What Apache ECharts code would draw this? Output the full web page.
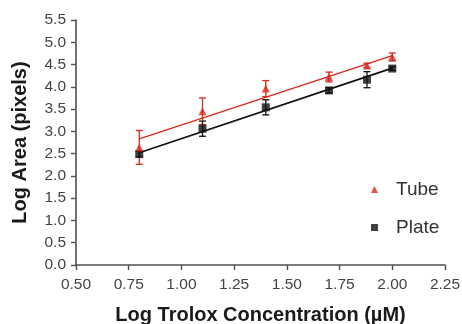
<!DOCTYPE html>
<html>
<head>
<meta charset="utf-8">
<script src="https://cdn.jsdelivr.net/npm/echarts@6/dist/echarts.min.js"></script>
<style>
  html, body { margin: 0; padding: 0; background: #fff; }
  #chart { width: 462px; height: 324px; }
</style>
</head>
<body>
<div id="chart"></div>
<script>
// Log Trolox concentration (µM) for each measured point
const logConc = [0.80, 1.10, 1.40, 1.70, 1.88, 2.00];

// Mean log area and standard deviation, tube assay
const tubeMean = [2.64, 3.45, 3.96, 4.22, 4.48, 4.67];
const tubeSD   = [0.38, 0.30, 0.18, 0.11, 0.05, 0.09];

// Mean log area and standard deviation, plate assay
const plateMean = [2.49, 3.06, 3.54, 3.92, 4.16, 4.41];
const plateSD   = [0.06, 0.17, 0.17, 0.06, 0.18, 0.04];

// Linear fit end points for each assay
const tubeFit  = [[0.80, 2.83], [2.00, 4.70]];
const plateFit = [[0.80, 2.52], [2.00, 4.42]];

// Axis tick ranges
const xTicks = { min: 0.50, max: 2.25, step: 0.25 };
const yTicks = { min: 0.0, max: 5.5, step: 0.5 };

const RED = '#d7281e';
const BLACK = '#111111';
const FONT = 'Liberation Sans, Arial, sans-serif';

function pairs(xs, ys) { return xs.map((x, i) => [x, ys[i]]); }
function bars(xs, m, sd) { return xs.map((x, i) => [x, m[i] - sd[i], m[i] + sd[i]]); }

function errorBar(color) {
  return function (params, api) {
    const x = api.value(0);
    const lo = api.coord([x, api.value(1)]);
    const hi = api.coord([x, api.value(2)]);
    const w = 3.5;
    const style = { stroke: color, lineWidth: 1.3 };
    return {
      type: 'group',
      children: [
        { type: 'line', shape: { x1: lo[0], y1: lo[1], x2: hi[0], y2: hi[1] }, style },
        { type: 'line', shape: { x1: lo[0] - w, y1: lo[1], x2: lo[0] + w, y2: lo[1] }, style },
        { type: 'line', shape: { x1: hi[0] - w, y1: hi[1], x2: hi[0] + w, y2: hi[1] }, style }
      ]
    };
  };
}

const chart = echarts.init(document.getElementById('chart'), null, { renderer: 'canvas' });

chart.setOption({
  animation: false,
  backgroundColor: '#fff',
  textStyle: { fontFamily: FONT },
  grid: {
    left: 76, right: 17, top: 20, bottom: 59,
    containLabel: false, outerBoundsMode: 'none'
  },
  xAxis: {
    type: 'value',
    min: xTicks.min, max: xTicks.max, interval: xTicks.step,
    name: 'Log Trolox Concentration (µM)',
    nameLocation: 'middle', nameGap: 40,
    nameTextStyle: { fontFamily: FONT, fontSize: 20, fontWeight: 'bold', color: '#1a1a1a' },
    axisLine: { lineStyle: { color: '#505050', width: 1.6 } },
    axisTick: { show: true, length: 5, lineStyle: { color: '#505050', width: 1.4 } },
    axisLabel: { fontFamily: FONT, fontSize: 15.5, color: '#444', margin: 12,
                 formatter: v => v.toFixed(2) },
    splitLine: { show: false }
  },
  yAxis: {
    type: 'value',
    min: yTicks.min, max: yTicks.max, interval: yTicks.step,
    name: 'Log Area (pixels)',
    nameLocation: 'middle', nameGap: 46,
    nameTextStyle: { fontFamily: FONT, fontSize: 20, fontWeight: 'bold', color: '#1a1a1a' },
    axisLine: { show: true, lineStyle: { color: '#505050', width: 1.6 } },
    axisTick: { show: true, length: 5, lineStyle: { color: '#505050', width: 1.4 } },
    axisLabel: { fontFamily: FONT, fontSize: 15.5, color: '#444', margin: 10,
                 formatter: v => v.toFixed(1) },
    splitLine: { show: false }
  },
  legend: {
    data: [
      { name: 'Tube', icon: 'triangle' },
      { name: 'Plate', icon: 'rect' }
    ],
    orient: 'vertical',
    left: 366, top: 175,
    itemWidth: 7, itemHeight: 7, itemGap: 19,
    textStyle: { fontFamily: FONT, fontSize: 19, color: '#333', padding: [0, 0, 0, 13] }
  },
  series: [
    {
      type: 'line', data: tubeFit, symbol: 'none', silent: true,
      lineStyle: { color: RED, width: 1.4 }, z: 2
    },
    {
      type: 'line', data: plateFit, symbol: 'none', silent: true,
      lineStyle: { color: BLACK, width: 1.8 }, z: 2
    },
    {
      type: 'custom', data: bars(logConc, tubeMean, tubeSD),
      renderItem: errorBar(RED), encode: { x: 0, y: [1, 2] }, z: 3
    },
    {
      type: 'custom', data: bars(logConc, plateMean, plateSD),
      renderItem: errorBar(BLACK), encode: { x: 0, y: [1, 2] }, z: 3
    },
    {
      name: 'Plate', type: 'scatter', data: pairs(logConc, plateMean),
      symbol: 'rect', symbolSize: 8, itemStyle: { color: BLACK }, z: 4
    },
    {
      name: 'Tube', type: 'scatter', data: pairs(logConc, tubeMean),
      symbol: 'triangle', symbolSize: 8, itemStyle: { color: RED }, z: 5
    }
  ]
});
</script>
</body>
</html>
